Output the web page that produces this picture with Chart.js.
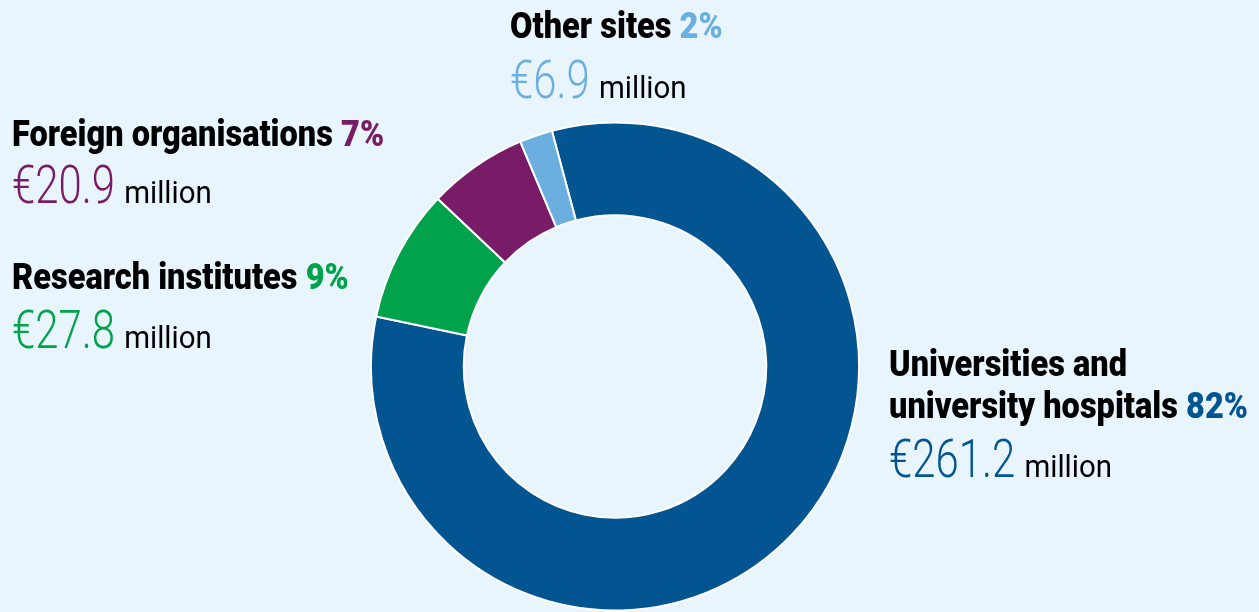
<!DOCTYPE html>
<html>
<head>
<meta charset="utf-8">
<script src="https://cdn.jsdelivr.net/npm/chart.js@4.4.1/dist/chart.umd.min.js"></script>
<style>
  html, body { margin: 0; padding: 0; background: #e9f5fd; }
  #wrap { position: relative; width: 1259px; height: 612px; }
</style>
</head>
<body>
<div id="wrap"><canvas id="funding"></canvas></div>
<script>
// funding by recipient type, € million
const labels = [['Universities and', 'university hospitals'], ['Research institutes'], ['Foreign organisations'], ['Other sites']];
const values = [261.2, 27.8, 20.9, 6.9];
const colors = ['#035592', '#00a24b', '#781c68', '#6aafe0'];

const total = values.reduce((a, b) => a + b, 0);
const percents = values.map(v => Math.round(100 * v / total) + '%');

// where each caption sits: left x and baselines of its lines
const captionPos = [
    { x: 889, y: [376, 418, 477] },
    { x: 12, y: [289, 348] },
    { x: 12, y: [146, 203] },
    { x: 510, y: [38, 98] }
];

const FONT = 'Roboto';
const boldStyle = { font: '900 37px ' + FONT, sx: 0.88 };
const bigStyle = { font: '300 53px ' + FONT, sx: 0.79 };
const unitStyle = { font: '400 32px ' + FONT, sx: 0.92, gap: 2 };

function drawRuns(c, x, y, runs) {
    for (const r of runs) {
        c.font = r.style.font;
        c.fillStyle = r.color;
        x += r.style.gap || 0;
        const w = c.measureText(r.text).width;
        c.save();
        c.translate(x, y);
        c.scale(r.style.sx, 1);
        c.fillText(r.text, 0, 0);
        c.restore();
        x += w * r.style.sx;
    }
}

const captions = {
    id: 'captions',
    afterDraw(chart) {
        const c = chart.ctx;
        c.save();
        c.textBaseline = 'alphabetic';
        c.textAlign = 'left';
        labels.forEach((lines, i) => {
            const pos = captionPos[i];
            lines.forEach((line, j) => {
                const runs = [{ text: line, color: '#000', style: boldStyle }];
                if (j === lines.length - 1) {
                    runs[0].text += ' ';
                    runs.push({ text: percents[i], color: colors[i], style: boldStyle });
                }
                drawRuns(c, pos.x, pos.y[j], runs);
            });
            drawRuns(c, pos.x, pos.y[lines.length], [
                { text: '€' + values[i].toFixed(1), color: colors[i], style: bigStyle },
                { text: ' million', color: '#000', style: unitStyle }
            ]);
        });
        c.restore();
    }
};

new Chart(document.getElementById('funding'), {
    type: 'doughnut',
    data: {
        labels: labels.map(l => l.join(' ')),
        datasets: [{
            data: values,
            backgroundColor: colors,
            borderColor: '#ffffff',
            borderWidth: 2
        }]
    },
    options: {
        responsive: true,
        maintainAspectRatio: false,
        animation: false,
        rotation: -15,
        cutout: '62%',
        layout: { padding: { left: 370, right: 399, top: 121, bottom: 0 } },
        plugins: {
            legend: { display: false },
            tooltip: { enabled: false }
        }
    },
    plugins: [captions]
});
</script>
</body>
</html>
